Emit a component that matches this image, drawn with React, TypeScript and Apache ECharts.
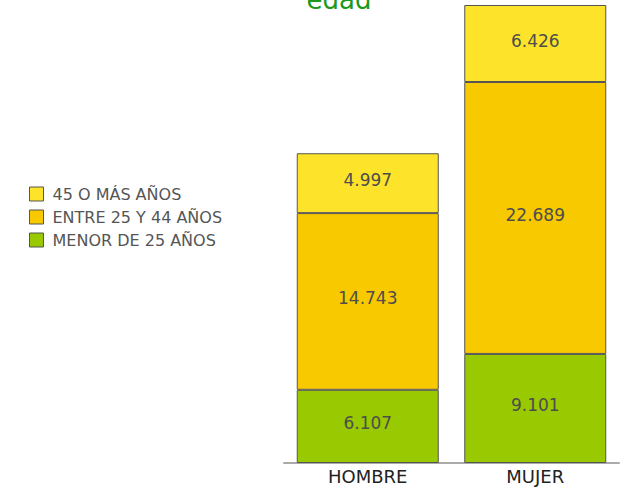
import React, { useEffect, useRef } from "react";
import * as echarts from "echarts";

const categories = ["HOMBRE", "MUJER"];
const menor25 = [6107, 9101];
const entre25y44 = [14743, 22689];
const mayor45 = [4997, 6426];
const seriesNames = ["MENOR DE 25 AÑOS", "ENTRE 25 Y 44 AÑOS", "45 O MÁS AÑOS"];
const legendOrder = ["45 O MÁS AÑOS", "ENTRE 25 Y 44 AÑOS", "MENOR DE 25 AÑOS"];
const colors = ["#99c900", "#f9c900", "#fde42a"];

const fmt = (v: number) => v.toString().replace(/\B(?=(\d{3})+(?!\d))/g, ".");

export default function App() {
  const ref = useRef<HTMLDivElement>(null);
  useEffect(() => {
    const chart = echarts.init(ref.current!, null, { renderer: "svg" });
    const font = "DejaVu Sans";
    const mk = (name: string, data: number[], color: string) => ({
      name,
      type: "bar",
      stack: "total",
      data,
      barWidth: 142,
      itemStyle: { color, borderColor: "#555", borderWidth: 1 },
      label: {
        show: true,
        position: "inside",
        offset: [0, -3],
        formatter: (p: any) => fmt(p.value),
        color: "#4d4d4d",
        fontSize: 17,
        fontFamily: font,
      },
    });
    chart.setOption({
      animation: false,
      grid: { left: 284, right: 10, top: 5, bottom: 25 },
      legend: {
        orient: "vertical",
        left: 24,
        top: 181,
        icon: "rect",
        itemWidth: 14,
        itemHeight: 14,
        itemGap: 7,
        data: legendOrder,
        textStyle: { color: "#555", fontSize: 16, fontFamily: font, lineHeight: 14, padding: [0, 0, 0, 4] },
        itemStyle: { borderColor: "#555", borderWidth: 1 },
      },
      graphic: [
        {
          type: "text",
          x: 339,
          y: 13,
          style: {
            text: "edad",
            fill: "#1a991a",
            fontSize: 26,
            fontFamily: font,
            align: "center",
            verticalAlign: "bottom",
          },
        },
      ],
      xAxis: {
        type: "category",
        data: categories,
        axisLine: { lineStyle: { color: "#aaa", width: 2 } },
        axisTick: { show: false },
        axisLabel: { color: "#222", fontSize: 18, fontFamily: font, margin: 4 },
      },
      yAxis: { type: "value", min: 0, max: 38216, show: false, splitLine: { show: false } },
      series: [
        mk(seriesNames[0], menor25, colors[0]),
        mk(seriesNames[1], entre25y44, colors[1]),
        mk(seriesNames[2], mayor45, colors[2]),
      ],
    });
    return () => chart.dispose();
  }, []);
  return <div ref={ref} style={{ width: 629, height: 488, position: "absolute", left: 0, top: 0 }} />;
}
